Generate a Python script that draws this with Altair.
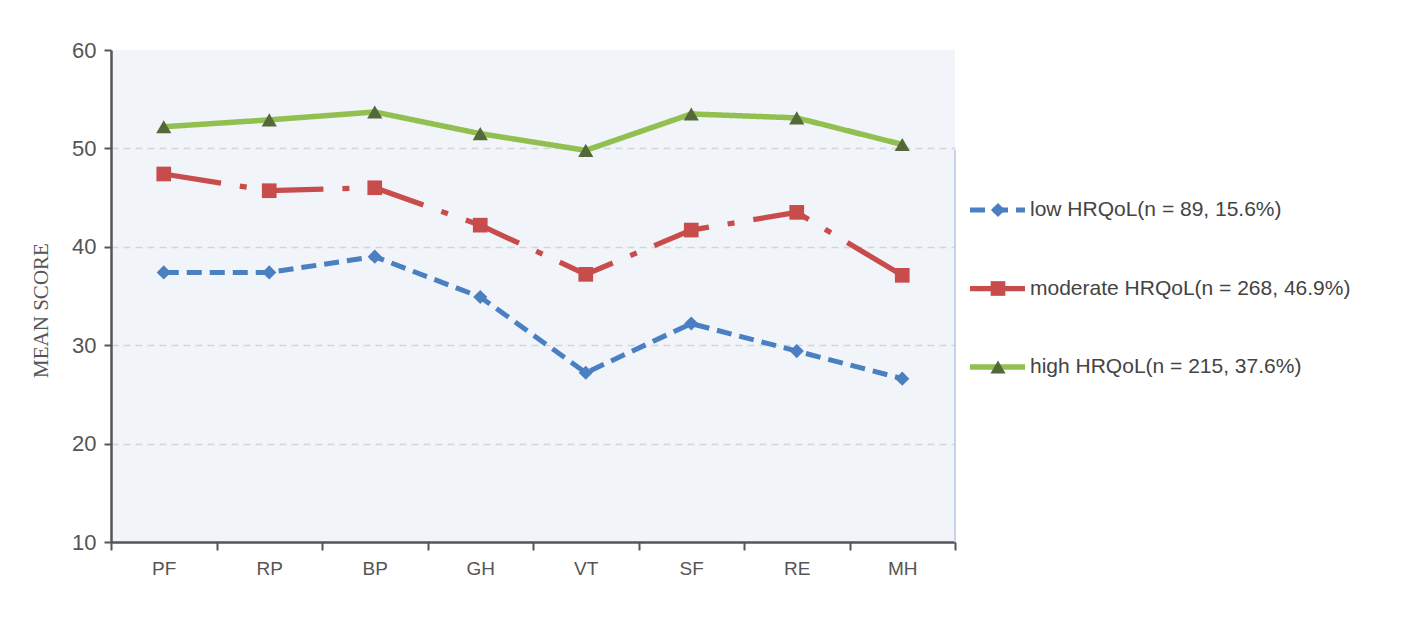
import altair as alt
import pandas as pd

categories = ["PF", "RP", "BP", "GH", "VT", "SF", "RE", "MH"]
series = ["low HRQoL(n = 89, 15.6%)", "moderate HRQoL(n = 268, 46.9%)", "high HRQoL(n = 215, 37.6%)"]
low = [37.4, 37.4, 39.0, 34.9, 27.2, 32.2, 29.4, 26.6]
moderate = [47.4, 45.7, 46.0, 42.2, 37.2, 41.7, 43.5, 37.1]
high = [52.2, 52.9, 53.7, 51.5, 49.8, 53.5, 53.1, 50.4]

line_colors = ["#4a7fc1", "#c94c4c", "#92c050"]
point_colors = ["#4a7fc1", "#c94c4c", "#55683a"]
shapes = ["diamond", "square", "triangle-up"]
dashes = [[15, 8], [58, 19, 7, 19], [1, 0]]
widths = [5, 5.5, 5]
sizes = [200, 230, 210]

rows = []
for s, vals in zip(series, [low, moderate, high]):
    for c, v in zip(categories, vals):
        rows.append({"category": c, "series": s, "score": v})
df = pd.DataFrame(rows)

font = "Liberation Sans"

x_enc = alt.X("category:N", sort=categories, title=None,
              scale=alt.Scale(domain=categories, paddingInner=0, paddingOuter=0),
              axis=alt.Axis(labelAngle=0, labelFont=font, labelFontSize=19, labelColor="#555",
                            labelPadding=9, tickBand="extent", tickSize=8, tickColor="#555",
                            tickWidth=2, domainColor="#555", domainWidth=2.5, grid=False))
y_enc = alt.Y("score:Q", title="MEAN SCORE",
              scale=alt.Scale(domain=[10, 60], nice=False, zero=False),
              axis=alt.Axis(values=[10, 20, 30, 40, 50, 60], labelFont=font, labelFontSize=22,
                            labelColor="#555", labelPadding=8, tickSize=7, tickColor="#555",
                            tickWidth=2, domainColor="#555", domainWidth=2.5,
                            grid=True, gridDash=[7, 5], gridColor="#d3d5d8", gridWidth=1.5,
                            gridOpacity=alt.condition("datum.value == 60 || datum.value == 10",
                                                      alt.value(0), alt.value(1)),
                            titleFont="Liberation Serif", titleFontSize=21, titleFontWeight="normal",
                            titleColor="#555", titlePadding=20, titleY=260))

color_line = alt.Color("series:N", scale=alt.Scale(domain=series, range=line_colors), legend=None)
color_pt = alt.Color("series:N", scale=alt.Scale(domain=series, range=point_colors), legend=None)
dash_enc = alt.StrokeDash("series:N", scale=alt.Scale(domain=series, range=dashes), legend=None)
width_enc = alt.StrokeWidth("series:N", scale=alt.Scale(domain=series, range=widths), legend=None)
shape_enc = alt.Shape("series:N", scale=alt.Scale(domain=series, range=shapes), legend=None)
size_enc = alt.Size("series:N", scale=alt.Scale(domain=series, range=sizes), legend=None)

base = alt.Chart(df)
lines = base.mark_line().encode(x=x_enc, y=y_enc, color=color_line, strokeDash=dash_enc,
                                strokeWidth=width_enc, detail="series:N")
points = base.mark_point(filled=True, opacity=1).encode(x=x_enc, y=y_enc, color=color_pt,
                                                        shape=shape_enc, size=size_enc)
border = alt.Chart(df).mark_rule(color="#c3d3ea", strokeWidth=2).encode(
    x=alt.value(844), y=alt.value(100), y2=alt.value(492))

main = alt.layer(border, lines, points).properties(
    width=844, height=492, view=alt.ViewBackground(fill="#f1f4f8", stroke=None)
).resolve_scale(color="independent")

leg_df = pd.DataFrame({"series": series})
leg_y = alt.Y("series:N", scale=alt.Scale(type="point", domain=series, range=[160, 317], padding=0),
              axis=None)
leg_line = alt.Chart(leg_df).mark_rule().encode(
    x=alt.value(0), x2=alt.value(55), y=leg_y,
    color=alt.Color("series:N", scale=alt.Scale(domain=series, range=line_colors), legend=None),
    strokeDash=alt.StrokeDash("series:N", scale=alt.Scale(domain=series, range=[[11, 7], [60, 0], [1, 0]]), legend=None),
    strokeWidth=alt.StrokeWidth("series:N", scale=alt.Scale(domain=series, range=[5, 5.5, 5]), legend=None))
leg_pt = alt.Chart(leg_df).mark_point(filled=True, opacity=1).encode(
    x=alt.value(28), y=leg_y,
    color=alt.Color("series:N", scale=alt.Scale(domain=series, range=point_colors), legend=None),
    shape=alt.Shape("series:N", scale=alt.Scale(domain=series, range=shapes), legend=None),
    size=alt.Size("series:N", scale=alt.Scale(domain=series, range=[110, 180, 130]), legend=None))
leg_txt = alt.Chart(leg_df).mark_text(align="left", baseline="middle", font=font, fontSize=21,
                                      color="#444").encode(
    x=alt.value(60), y=leg_y, text="series:N")
legend = alt.layer(leg_line, leg_pt, leg_txt).properties(
    width=400, height=492, view=alt.ViewBackground(fill=None, stroke=None)
).resolve_scale(color="independent")

chart = alt.hconcat(main, legend, spacing=11).properties(
    padding={"left": 22, "top": 31, "right": 5, "bottom": 5}
).configure_view(stroke=None)

chart.save("out.html", embed_options={"renderer": "svg", "actions": False})
